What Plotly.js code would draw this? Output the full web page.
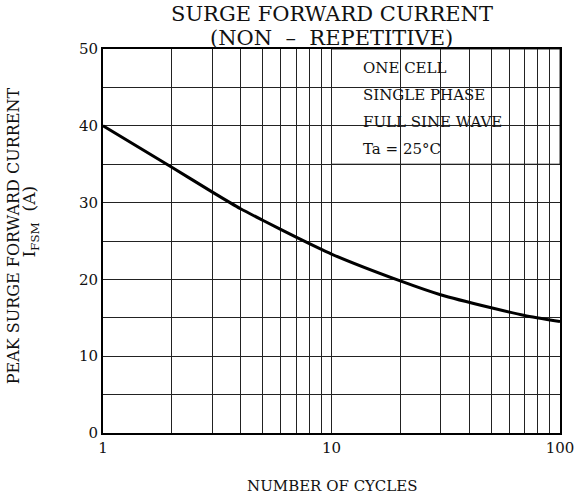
<!DOCTYPE html>
<html>
<head>
<meta charset="utf-8">
<script src="https://cdn.plot.ly/plotly-3.0.1.min.js"></script>
<style>html,body{margin:0;padding:0;background:#fff;}#chart{width:585px;height:499px;}</style>
</head>
<body>
<div id="chart"></div>
<script>
// Data
const cycles = [1, 2, 3, 4, 5, 7, 10, 20, 30, 50, 70, 100];
const surgeCurrent = [40, 34.6, 31.4, 29.2, 27.7, 25.5, 23.3, 19.8, 18.0, 16.3, 15.3, 14.5];

const xTickVals = [1,2,3,4,5,6,7,8,9,10,20,30,40,50,60,70,80,90,100];
const xTickText = ['1','','','','','','','','','10','','','','','','','','','100'];
const yTickVals = [0,10,20,30,40,50];

const titleLines = ['SURGE FORWARD CURRENT', '(NON\u00a0\u00a0\u2013\u00a0\u00a0REPETITIVE)'];
const xTitle = 'NUMBER OF CYCLES';
const yTitleLine1 = 'PEAK SURGE FORWARD CURRENT';
const yTitleLine2 = 'I<sub>FSM</sub>\u00a0\u00a0(A)';
const noteLines = ['ONE CELL', 'SINGLE PHASE', 'FULL SINE WAVE', 'Ta = 25\u00b0C'];

const FONT = 'DejaVu Serif, Liberation Serif, serif';
const gridCol = '#222';

const notePaperY = [0.951, 0.880, 0.810, 0.740];
const annotations = noteLines.map((t, i) => ({
  text: t, xref: 'paper', yref: 'paper', x: 0.565, y: notePaperY[i],
  xanchor: 'left', yanchor: 'middle', showarrow: false,
  font: {family: FONT, size: 15, color: '#111'}
}));
annotations.push({
  text: yTitleLine1, xref: 'paper', yref: 'paper', x: -0.197, y: 0.515,
  xanchor: 'center', yanchor: 'middle', textangle: -90, showarrow: false,
  font: {family: FONT, size: 16, color: '#111'}
});
annotations.push({
  text: yTitleLine2, xref: 'paper', yref: 'paper', x: -0.158, y: 0.55,
  xanchor: 'center', yanchor: 'middle', textangle: -90, showarrow: false,
  font: {family: FONT, size: 17, color: '#111'}
});
annotations.push({
  text: xTitle, xref: 'paper', yref: 'paper', x: 0.5, y: -0.138,
  xanchor: 'center', yanchor: 'middle', showarrow: false,
  font: {family: FONT, size: 15, color: '#111'}
});
annotations.push({
  text: titleLines[0], xref: 'paper', yref: 'paper', x: 0.5, y: (433 - 14) / 384,
  xanchor: 'center', yanchor: 'middle', showarrow: false,
  font: {family: FONT, size: 21, color: '#111'}
});
annotations.push({
  text: titleLines[1], xref: 'paper', yref: 'paper', x: 0.5, y: (433 - 38) / 384,
  xanchor: 'center', yanchor: 'middle', showarrow: false,
  font: {family: FONT, size: 21, color: '#111'}
});

const trace = {
  x: cycles, y: surgeCurrent, type: 'scatter', mode: 'lines',
  line: {color: '#000', width: 3, shape: 'spline', smoothing: 0.6},
  hoverinfo: 'skip'
};

const layout = {
  width: 585, height: 499,
  margin: {l: 103, r: 25, t: 49, b: 66},
  paper_bgcolor: '#fff', plot_bgcolor: '#fff',
  showlegend: false,
  font: {family: FONT, color: '#111'},
  xaxis: {
    type: 'log', range: [0, 2],
    tickmode: 'array', tickvals: xTickVals, ticktext: xTickText,
    showgrid: true, gridcolor: gridCol, gridwidth: 1,
    showline: true, linecolor: '#000', linewidth: 2, mirror: true,
    ticks: '', ticklen: 0, zeroline: false,
    tickfont: {family: FONT, size: 15, color: '#111'}
  },
  yaxis: {
    range: [0, 50], tickmode: 'array', tickvals: yTickVals,
    showgrid: true, gridcolor: gridCol, gridwidth: 1,
    minor: {dtick: 5, showgrid: true, gridcolor: gridCol, gridwidth: 1, ticks: ''},
    showline: true, linecolor: '#000', linewidth: 2, mirror: true,
    ticks: '', zeroline: false,
    tickfont: {family: FONT, size: 15, color: '#111'}
  },
  shapes: [{
    type: 'rect', layer: 'between', xref: 'paper', yref: 'y',
    x0: 0.5, x1: 1, y0: 35, y1: 50,
    fillcolor: '#fff', line: {color: gridCol, width: 1}
  }],
  annotations: annotations
};

Plotly.newPlot('chart', [trace], layout, {displayModeBar: false, staticPlot: true});
</script>
</body>
</html>
